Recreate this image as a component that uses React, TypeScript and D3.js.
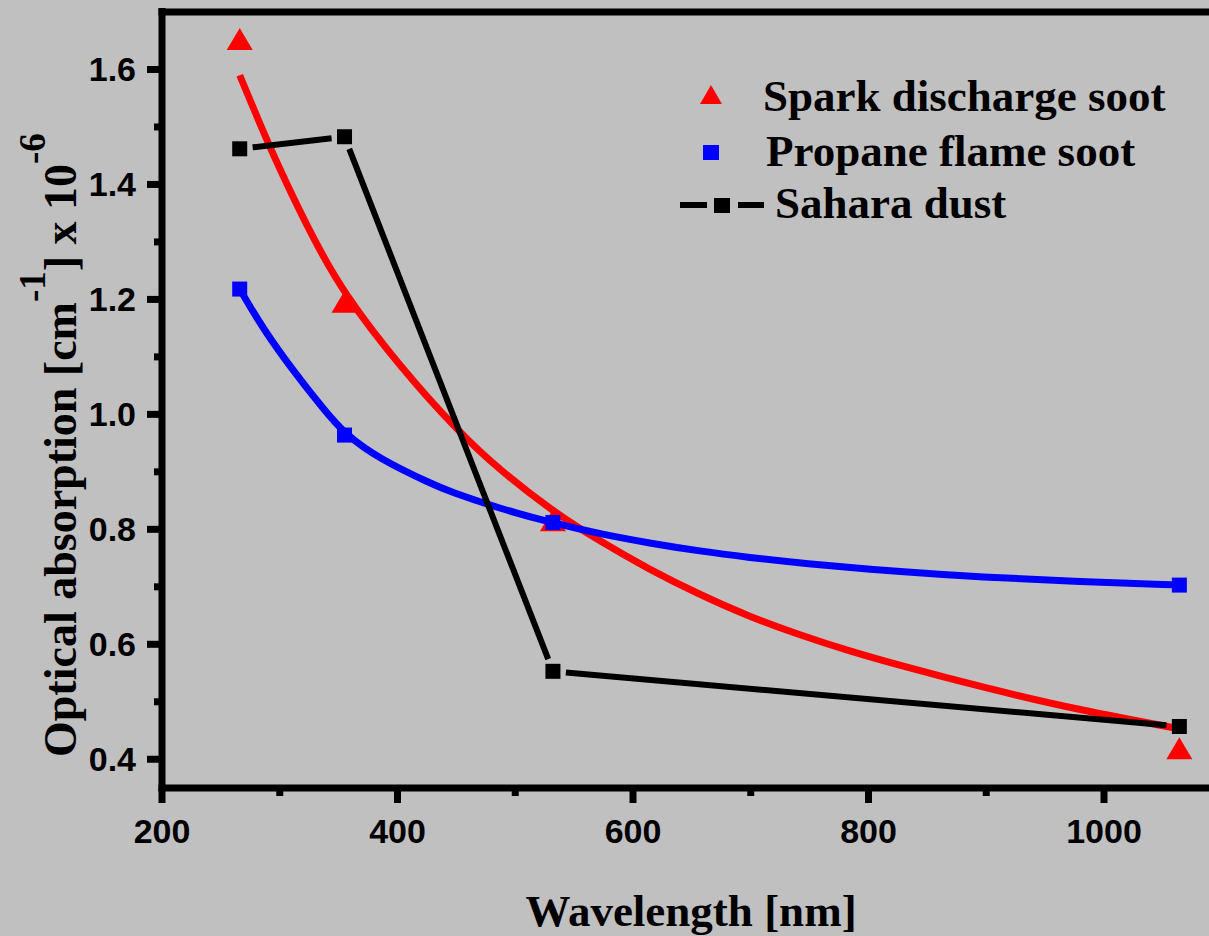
import React from 'react';
import * as d3 from 'd3';

const W = 1209;
const H = 936;

// measured points
const wavelengths = [266, 355, 532, 1064];
const sparkDischargeSoot = [1.653, 1.196, 0.816, 0.419];
const propaneFlameSoot = [1.218, 0.964, 0.812, 0.703];
const saharaDust = [1.462, 1.483, 0.553, 0.457];

// fitted curves
const sparkFitWavelength = [266, 292, 309, 328, 354, 402, 453, 487, 532, 572, 614, 657, 699, 742, 784, 827, 895, 980, 1064];
const sparkFitValue = [1.590, 1.462, 1.388, 1.308, 1.211, 1.083, 0.967, 0.903, 0.831, 0.779, 0.730, 0.686, 0.648, 0.616, 0.588, 0.563, 0.526, 0.485, 0.453];

const propaneFitWavelength = [266, 286, 315, 337, 355, 385, 428, 445, 487, 532, 572, 614, 657, 699, 742, 827, 895, 980, 1064];
const propaneFitValue = [1.218, 1.148, 1.066, 1.010, 0.966, 0.922, 0.880, 0.865, 0.836, 0.811, 0.792, 0.776, 0.762, 0.751, 0.741, 0.726, 0.717, 0.709, 0.703];

const xTicks = [200, 400, 600, 800, 1000];
const xMinorTicks = [300, 500, 700, 900];
const yTicks = [0.4, 0.6, 0.8, 1.0, 1.2, 1.4, 1.6];
const yMinorTicks = [0.5, 0.7, 0.9, 1.1, 1.3, 1.5];

const legendLabels = ['Spark discharge soot', 'Propane flame soot', 'Sahara dust'];

const SANS = "'Liberation Sans', Arial, Helvetica, sans-serif";
const SERIF = "'Liberation Serif', 'Times New Roman', Times, serif";
const BG = '#c0c0c0';

export default function App() {
  const x = d3.scaleLinear().domain([200, 1100]).range([162, 162 + 900 * 1.1775]);
  const y = d3.scaleLinear().domain([0.35, 1.7]).range([788, 12]);

  const line = d3
    .line<[number, number]>()
    .x((d) => x(d[0]))
    .y((d) => y(d[1]))
    .curve(d3.curveBasis);

  const sparkFit = line(sparkFitWavelength.map((w, i) => [w, sparkFitValue[i]] as [number, number])) || '';
  const propaneFit = line(propaneFitWavelength.map((w, i) => [w, propaneFitValue[i]] as [number, number])) || '';

  const tri = (cx: number, cy: number, w: number, h: number) =>
    `M${cx},${cy - h / 2}L${cx + w / 2},${cy + h / 2}L${cx - w / 2},${cy + h / 2}Z`;

  const gap = 13;
  const saharaSegs = wavelengths.slice(0, -1).map((w, i) => {
    const x0 = x(w), y0 = y(saharaDust[i]);
    const x1 = x(wavelengths[i + 1]), y1 = y(saharaDust[i + 1]);
    const len = Math.hypot(x1 - x0, y1 - y0);
    const ux = (x1 - x0) / len, uy = (y1 - y0) / len;
    return { x0: x0 + ux * gap, y0: y0 + uy * gap, x1: x1 - ux * gap, y1: y1 - uy * gap };
  });

  const axisX = x(200);
  const axisY = y(0.35);
  const topY = y(1.7);

  return (
    <svg width={W} height={H} style={{ position: 'absolute', left: 0, top: 0, display: 'block' }}>
      <rect x={0} y={0} width={W} height={H} fill={BG} />

      {/* spark discharge fit and markers */}
      <path d={sparkFit} fill="none" stroke="#ff0000" strokeWidth={7} />
      {wavelengths.map((w, i) => (
        <path key={'s' + i} d={tri(x(w), y(sparkDischargeSoot[i]), 26, 22)} fill="#ff0000" />
      ))}

      {/* propane fit and markers */}
      <path d={propaneFit} fill="none" stroke="#0000ff" strokeWidth={7} />
      {wavelengths.map((w, i) => (
        <rect key={'p' + i} x={x(w) - 7.5} y={y(propaneFlameSoot[i]) - 7.5} width={15} height={15} fill="#0000ff" />
      ))}

      {/* sahara dust */}
      {saharaSegs.map((s, i) => (
        <line key={'l' + i} x1={s.x0} y1={s.y0} x2={s.x1} y2={s.y1} stroke="#000" strokeWidth={6} />
      ))}
      {wavelengths.map((w, i) => (
        <rect key={'d' + i} x={x(w) - 7.5} y={y(saharaDust[i]) - 7.5} width={15} height={15} fill="#000" />
      ))}

      {/* axes frame */}
      <line x1={axisX} y1={topY - 4} x2={axisX} y2={axisY + 3.5} stroke="#000" strokeWidth={7} />
      <line x1={axisX - 3.5} y1={axisY} x2={W} y2={axisY} stroke="#000" strokeWidth={7} />
      <line x1={axisX - 3.5} y1={topY} x2={W} y2={topY} stroke="#000" strokeWidth={7} />

      {/* x ticks */}
      {xTicks.map((t) => (
        <g key={'xt' + t}>
          <line x1={x(t)} y1={axisY} x2={x(t)} y2={axisY + 15} stroke="#000" strokeWidth={7} />
          <text x={x(t)} y={843} textAnchor="middle" fontFamily={SANS} fontWeight="bold" fontSize={34} fill="#000">
            {t}
          </text>
        </g>
      ))}
      {xMinorTicks.map((t) => (
        <line key={'xm' + t} x1={x(t)} y1={axisY} x2={x(t)} y2={axisY + 8} stroke="#000" strokeWidth={7} />
      ))}

      {/* y ticks */}
      {yTicks.map((t) => (
        <g key={'yt' + t}>
          <line x1={axisX - 15} y1={y(t)} x2={axisX} y2={y(t)} stroke="#000" strokeWidth={7} />
          <text x={136} y={y(t) + 12} textAnchor="end" fontFamily={SANS} fontWeight="bold" fontSize={34} fill="#000">
            {t.toFixed(1)}
          </text>
        </g>
      ))}
      {yMinorTicks.map((t) => (
        <line key={'ym' + t} x1={axisX - 8} y1={y(t)} x2={axisX} y2={y(t)} stroke="#000" strokeWidth={7} />
      ))}

      {/* axis titles */}
      <text x={691} y={926} textAnchor="middle" fontFamily={SERIF} fontWeight="bold" fontSize={45} fill="#000">
        Wavelength [nm]
      </text>
      <text
        transform="translate(76,757) rotate(-90)"
        x={0}
        y={0}
        textAnchor="start"
        fontFamily={SERIF}
        fontWeight="bold"
        fontSize={46}
        fill="#000"
      >
        <tspan>Optical absorption [cm</tspan>
        <tspan dy={-31} fontSize={37}>-1</tspan>
        <tspan dy={31}>] x 10</tspan>
        <tspan dy={-31} fontSize={37}>-6</tspan>
      </text>

      {/* legend */}
      <path d={tri(711, 94.5, 22, 19)} fill="#ff0000" />
      <text x={763} y={111} fontFamily={SERIF} fontWeight="bold" fontSize={45} fill="#000">
        {legendLabels[0]}
      </text>
      <rect x={703} y={145} width={16} height={15} fill="#0000ff" />
      <text x={766} y={166} fontFamily={SERIF} fontWeight="bold" fontSize={45} fill="#000">
        {legendLabels[1]}
      </text>
      <line x1={680} y1={205} x2={707} y2={205} stroke="#000" strokeWidth={6} />
      <rect x={714} y={198} width={16} height={15} fill="#000" />
      <line x1={738} y1={205} x2={764} y2={205} stroke="#000" strokeWidth={6} />
      <text x={775} y={218} fontFamily={SERIF} fontWeight="bold" fontSize={45} fill="#000">
        {legendLabels[2]}
      </text>
    </svg>
  );
}
